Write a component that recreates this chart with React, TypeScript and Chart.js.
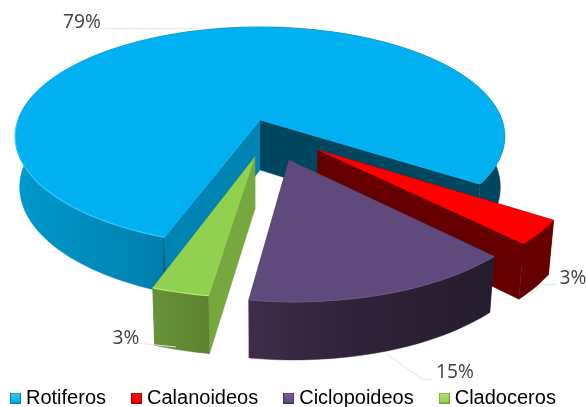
import React, { useEffect, useRef } from "react";
import { Chart, registerables } from "chart.js";

Chart.register(...registerables);

// ---- data ----
const categories = ["Rotiferos", "Calanoideos", "Ciclopoideos", "Cladoceros"];
const shares = [78.8, 3.4, 14.7, 3.1];
// slice displacement in units of the pie radius
const explodeX = [0, 0.23, 0.1135, -0.02];
const explodeY = [0, 0.269, 0.354, 0.329];

// ---- styling ----
const topColors = ["#00B0F0", "#FF0000", "#604A7B", "#92D050"];
const lastFaceColors = ["#00465F", "#660000", "#30243C", "#5F8530"];
const firstFaceColors = ["#0084B4", "#660000", "#30243C", "#76A83F"];
const rimStops: [number, string][][] = [
  [[0, "#0099CC"], [0.3, "#007FAE"], [0.31, "#00465F"], [1, "#00465F"]],
  [[0, "#660000"], [1, "#660000"]],
  [[0, "#3F2D4A"], [0.4, "#2F2339"], [1, "#251C2E"]],
  [[0, "#67913A"], [1, "#5D832F"]],
];
const bevelColors = ["#2CCBFF", "", "#6A5485", "#B2E86C"];
const markerEdge = ["#0F7FA8", "#A00000", "#46345E", "#6FA638"];
const markerCore = ["#35C6F4", "#F01010", "#7A5F9C", "#B4E070"];
const labelAnchors: [number, number][] = [[82, 22.5], [573, 278.5], [455, 372.5], [126, 338.5]];
const leaders: [number, number][][] = [
  [[105, 28.5], [192, 28.5]],
  [[555, 284.5], [542, 284.5], [530, 295]],
  [[432, 379.5], [423, 379.5], [385, 353]],
  [[141, 343.5], [176, 347]],
];

// perspective of the pie's top plane
const CX = 260, CY = 120, AX = 242, BY = 107, KP = 0.15;
const DEPTH = 50, DEPTH_GROW = 1.045, BOTTOM_SHRINK = 0.982;

type P = [number, number];
const project = (X: number, Y: number): P => {
  const d = 1 - KP * Y;
  return [CX + (AX * X) / d, CY + (BY * Y) / d];
};
const drop = ([x, y]: P): P => [
  CX + (x - CX) * BOTTOM_SHRINK,
  CY + DEPTH + (y - CY) * DEPTH_GROW,
];

function poly(ctx: CanvasRenderingContext2D, pts: P[], fill: string | CanvasGradient) {
  ctx.beginPath();
  pts.forEach((p, i) => (i ? ctx.lineTo(p[0], p[1]) : ctx.moveTo(p[0], p[1])));
  ctx.closePath();
  ctx.fillStyle = fill;
  ctx.fill();
  ctx.strokeStyle = fill;
  ctx.lineWidth = 0.4;
  ctx.stroke();
}

const pie3d = {
  id: "pie3d",
  beforeDraw(chart: any) {
    const lg = chart.legend;
    lg.left = -15;
    lg.right = 600;
    lg.top = 358;
  },
  beforeDatasetsDraw(chart: any) {
    const ctx: CanvasRenderingContext2D = chart.ctx;
    const arcs = chart.getDatasetMeta(0).data;
    const order = [0, 1, 3, 2];
    ctx.save();
    order.forEach((i) => {
      const a = arcs[i];
      const ox = explodeX[i], oy = explodeY[i];
      const n = Math.max(8, Math.ceil((a.endAngle - a.startAngle) * 40));
      const rim: P[] = [];
      for (let s = 0; s <= n; s++) {
        const t = a.startAngle + ((a.endAngle - a.startAngle) * s) / n;
        rim.push(project(ox + Math.cos(t), oy + Math.sin(t)));
      }
      const apex = project(ox, oy);
      const rimLow = rim.map(drop);
      const apexLow = drop(apex);
      poly(ctx, [apex, rim[n], rimLow[n], apexLow], lastFaceColors[i]);
      poly(ctx, [apex, rim[0], rimLow[0], apexLow], firstFaceColors[i]);
      const xs = rim.map((p) => p[0]);
      const grad = ctx.createLinearGradient(Math.min(...xs), 0, Math.max(...xs), 0);
      rimStops[i].forEach(([o, c]) => grad.addColorStop(o, c));
      poly(ctx, [...rim, ...rimLow.slice().reverse()], grad);
      poly(ctx, [apex, ...rim], topColors[i]);
      if (bevelColors[i]) {
        ctx.beginPath();
        let pen = false;
        rim.forEach((p, s) => {
          const t = a.startAngle + ((a.endAngle - a.startAngle) * s) / n;
          if (Math.sin(t) > -0.02 && (i !== 0 || Math.cos(t) < 0)) {
            pen ? ctx.lineTo(p[0], p[1]) : ctx.moveTo(p[0], p[1]);
            pen = true;
          }
        });
        ctx.strokeStyle = bevelColors[i];
        ctx.lineWidth = 1.2;
        ctx.stroke();
      }
    });
    // leader lines and percentage labels
    ctx.strokeStyle = "#E6E6E6";
    ctx.lineWidth = 1;
    leaders.forEach((l) => {
      ctx.beginPath();
      l.forEach((p, j) => (j ? ctx.lineTo(p[0], p[1]) : ctx.moveTo(p[0], p[1])));
      ctx.stroke();
    });
    ctx.font = '19.2px "Open Sans"';
    ctx.fillStyle = "#404040";
    ctx.textAlign = "center";
    ctx.textBaseline = "middle";
    shares.forEach((v, i) => {
      ctx.fillText(Math.round(v) + "%", labelAnchors[i][0], labelAnchors[i][1]);
    });
    ctx.restore();
    return false;
  },
};

function marker(i: number) {
  const c = document.createElement("canvas");
  c.width = 11;
  c.height = 11;
  const g = c.getContext("2d")!;
  g.fillStyle = markerEdge[i];
  g.fillRect(0, 0, 11, 11);
  const r = g.createLinearGradient(0, 1, 0, 10);
  r.addColorStop(0, markerCore[i]);
  r.addColorStop(1, topColors[i]);
  g.fillStyle = r;
  g.fillRect(1, 1, 9, 9);
  return c;
}

export default function App() {
  const ref = useRef<HTMLCanvasElement>(null);
  useEffect(() => {
    const chart = new Chart(ref.current!, {
      type: "pie",
      data: {
        labels: categories,
        datasets: [{ data: shares, backgroundColor: topColors, borderWidth: 0 }],
      },
      plugins: [pie3d],
      options: {
        animation: false,
        responsive: false,
        rotation: 199.8,
        plugins: {
          tooltip: { enabled: false },
          legend: {
            position: "bottom",
            align: "start",
            labels: {
              usePointStyle: true,
              boxWidth: 1,
              boxHeight: 11,
              padding: 30,
              color: "#000000",
              font: { family: '"Liberation Sans"', size: 20 },
              generateLabels: () =>
                categories.map((text, i) => ({
                  text,
                  index: i,
                  hidden: false,
                  lineWidth: 0,
                  fillStyle: topColors[i],
                  strokeStyle: topColors[i],
                  pointStyle: marker(i),
                })),
            },
          },
        },
      },
    } as any);
    return () => chart.destroy();
  }, []);
  return (
    <canvas
      ref={ref}
      width={586}
      height={407}
      style={{ position: "fixed", left: 0, top: 0, width: 586, height: 407, background: "#fff" }}
    />
  );
}
